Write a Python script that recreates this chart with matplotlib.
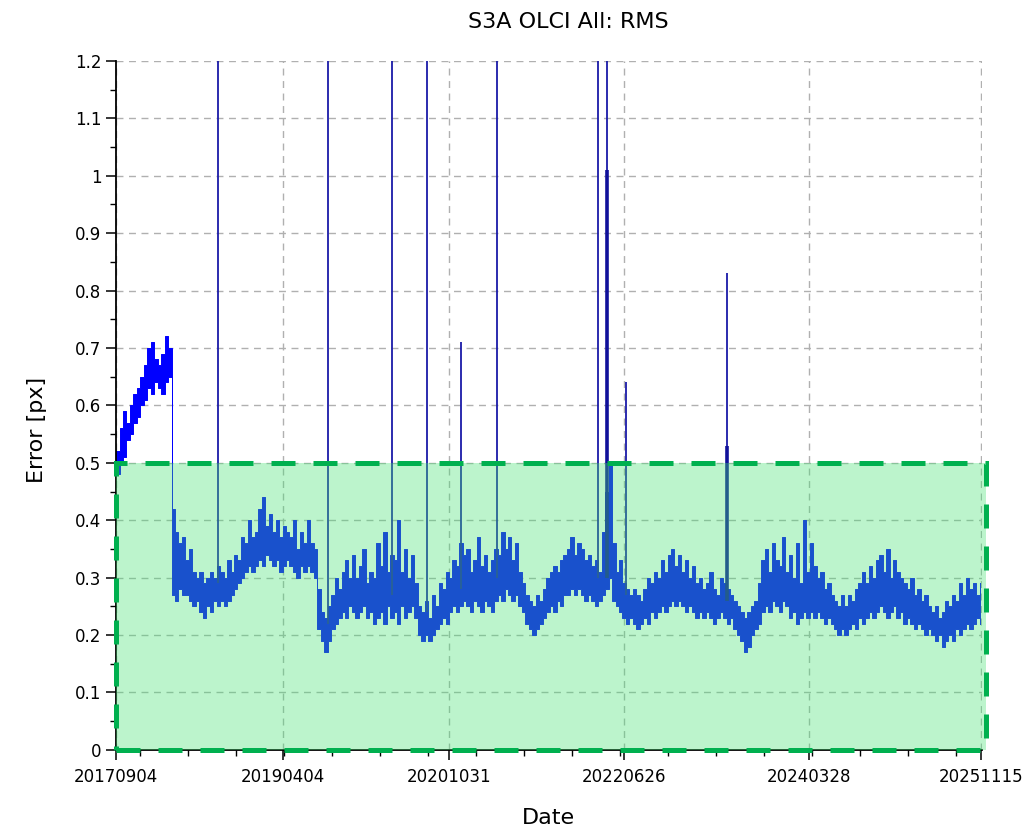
import numpy as np
import pandas as pd
import matplotlib
matplotlib.use("Agg")
import matplotlib.pyplot as plt
import matplotlib.dates as mdates
from matplotlib.patches import Rectangle
from matplotlib.ticker import MultipleLocator, FixedLocator

# RMS error, one (low, high) pair per 12-day bin starting 2017-09-04
start = pd.Timestamp("2017-09-04")
step_days = 12

rms_low = [
    0.48, 0.50, 0.51, 0.54, 0.55, 0.57, 0.58, 0.60, 0.61, 0.63,
    0.62, 0.64, 0.63, 0.62, 0.64, 0.65, 0.27, 0.26, 0.28, 0.27,
    0.27, 0.26, 0.25, 0.26, 0.24, 0.23, 0.25, 0.24, 0.26, 0.25,
    0.26, 0.25, 0.26, 0.27, 0.28, 0.29, 0.30, 0.31, 0.32, 0.31,
    0.32, 0.33, 0.32, 0.34, 0.33, 0.32, 0.33, 0.31, 0.32, 0.33,
    0.32, 0.31, 0.30, 0.32, 0.31, 0.32, 0.31, 0.30, 0.21, 0.19,
    0.17, 0.19, 0.21, 0.22, 0.23, 0.24, 0.23, 0.25, 0.24, 0.23,
    0.24, 0.25, 0.23, 0.24, 0.22, 0.23, 0.24, 0.22, 0.25, 0.23,
    0.24, 0.22, 0.25, 0.23, 0.24, 0.25, 0.23, 0.20, 0.19, 0.20,
    0.19, 0.20, 0.21, 0.22, 0.23, 0.22, 0.24, 0.25, 0.24, 0.25,
    0.26, 0.25, 0.24, 0.26, 0.25, 0.24, 0.26, 0.25, 0.24, 0.26,
    0.27, 0.26, 0.28, 0.27, 0.26, 0.27, 0.25, 0.24, 0.22, 0.21,
    0.20, 0.21, 0.22, 0.23, 0.24, 0.25, 0.24, 0.26, 0.25, 0.27,
    0.27, 0.28, 0.27, 0.28, 0.27, 0.26, 0.27, 0.26, 0.25, 0.26,
    0.27, 0.28, 0.30, 0.26, 0.25, 0.24, 0.23, 0.22, 0.23, 0.22,
    0.21, 0.22, 0.23, 0.22, 0.24, 0.23, 0.24, 0.25, 0.24, 0.25,
    0.26, 0.25, 0.26, 0.25, 0.24, 0.25, 0.24, 0.23, 0.24, 0.23,
    0.24, 0.23, 0.22, 0.23, 0.24, 0.23, 0.22, 0.23, 0.21, 0.20,
    0.19, 0.17, 0.18, 0.20, 0.21, 0.22, 0.24, 0.25, 0.24, 0.26,
    0.25, 0.24, 0.26, 0.25, 0.23, 0.24, 0.22, 0.23, 0.24, 0.23,
    0.24, 0.23, 0.24, 0.23, 0.22, 0.23, 0.22, 0.21, 0.20, 0.21,
    0.20, 0.21, 0.22, 0.21, 0.23, 0.22, 0.23, 0.24, 0.23, 0.24,
    0.25, 0.24, 0.23, 0.24, 0.25, 0.23, 0.24, 0.22, 0.23, 0.22,
    0.21, 0.22, 0.21, 0.20, 0.21, 0.20, 0.19, 0.20, 0.18, 0.19,
    0.20, 0.19, 0.21, 0.20, 0.21, 0.22, 0.21, 0.22, 0.23, 0.22,
]
rms_high = [
    0.52, 0.56, 0.59, 0.57, 0.60, 0.62, 0.63, 0.65, 0.67, 0.70,
    0.71, 0.68, 0.67, 0.69, 0.72, 0.70, 0.42, 0.38, 0.36, 0.37,
    0.33, 0.35, 0.31, 0.30, 0.31, 0.29, 0.30, 0.31, 0.30, 0.32,
    0.31, 0.30, 0.33, 0.31, 0.34, 0.33, 0.37, 0.36, 0.40, 0.37,
    0.38, 0.42, 0.44, 0.39, 0.41, 0.38, 0.40, 0.37, 0.39, 0.38,
    0.37, 0.40, 0.35, 0.38, 0.36, 0.40, 0.36, 0.35, 0.28, 0.24,
    0.23, 0.25, 0.27, 0.30, 0.28, 0.31, 0.33, 0.30, 0.34, 0.30,
    0.32, 0.35, 0.29, 0.31, 0.30, 0.36, 0.32, 0.38, 0.31, 0.34,
    0.33, 0.40, 0.31, 0.35, 0.30, 0.34, 0.29, 0.25, 0.24, 0.26,
    0.23, 0.27, 0.25, 0.29, 0.28, 0.31, 0.30, 0.33, 0.32, 0.36,
    0.34, 0.35, 0.31, 0.33, 0.37, 0.32, 0.34, 0.31, 0.33, 0.35,
    0.34, 0.38, 0.35, 0.37, 0.33, 0.36, 0.31, 0.29, 0.27, 0.26,
    0.25, 0.27, 0.26, 0.28, 0.30, 0.31, 0.32, 0.31, 0.33, 0.34,
    0.35, 0.37, 0.34, 0.36, 0.35, 0.33, 0.34, 0.32, 0.33, 0.31,
    0.38, 0.45, 0.50, 0.36, 0.31, 0.33, 0.29, 0.28, 0.27, 0.28,
    0.27, 0.26, 0.28, 0.30, 0.29, 0.31, 0.30, 0.33, 0.31, 0.34,
    0.35, 0.32, 0.34, 0.31, 0.33, 0.30, 0.32, 0.29, 0.30, 0.28,
    0.29, 0.31, 0.28, 0.27, 0.30, 0.29, 0.28, 0.27, 0.26, 0.25,
    0.24, 0.23, 0.24, 0.25, 0.26, 0.29, 0.33, 0.35, 0.31, 0.36,
    0.33, 0.32, 0.37, 0.31, 0.34, 0.30, 0.36, 0.29, 0.40, 0.31,
    0.36, 0.32, 0.30, 0.31, 0.28, 0.29, 0.27, 0.26, 0.25, 0.27,
    0.25, 0.27, 0.26, 0.28, 0.29, 0.31, 0.29, 0.32, 0.30, 0.33,
    0.34, 0.31, 0.35, 0.30, 0.33, 0.31, 0.30, 0.29, 0.28, 0.30,
    0.27, 0.28, 0.26, 0.27, 0.25, 0.24, 0.25, 0.23, 0.24, 0.26,
    0.25, 0.27, 0.26, 0.29, 0.27, 0.30, 0.28, 0.29, 0.27, 0.29,
]

# single-day outliers (days after start, value); 1.3 = off the top of the axis
spike_day = [353, 733, 954, 1075, 1193, 1317, 1666, 1700, 1766, 2112]
spike_base = [0.29, 0.22, 0.27, 0.24, 0.28, 0.30, 0.30, 0.30, 0.27, 0.26]
spike_top = [1.3, 1.3, 1.3, 1.3, 0.71, 1.3, 1.3, 1.3, 0.64, 0.83]
wide_day = [1697, 2112]
wide_base = [0.30, 0.26]
wide_top = [1.01, 0.53]

tick_labels = ["20170904", "20190404", "20201031", "20220626", "20240328", "20251115"]
green_limit = 0.5

dates = start + pd.to_timedelta(np.arange(len(rms_low)) * step_days, unit="D")
spike_dates = start + pd.to_timedelta(spike_day, unit="D")
wide_dates = start + pd.to_timedelta(wide_day, unit="D")
tick_dates = pd.to_datetime(tick_labels, format="%Y%m%d")

fig = plt.figure(figsize=(10.27, 8.36), dpi=100)
ax = fig.add_axes([0.113, 0.103, 0.8432, 0.8242])

ax.fill_between(dates, rms_low, rms_high, step="post", color="#0000ff",
                linewidth=0.7, zorder=2)
ax.vlines(spike_dates, spike_base, spike_top, color="#1a1aa8", linewidth=1.3, zorder=2)
ax.vlines(wide_dates, wide_base, wide_top, color="#10109a", linewidth=2.6, zorder=2)

# green "requirement" box
x0 = mdates.date2num(start)
x1 = mdates.date2num(pd.Timestamp("2025-12-02"))
ax.add_patch(Rectangle((x0, 0), x1 - x0, green_limit, facecolor=(70/255, 227/255, 115/255),
                       alpha=0.36, edgecolor="none", zorder=3, clip_on=False))
ax.add_patch(Rectangle((x0, 0), x1 - x0, green_limit, fill=False, edgecolor="#00b04f",
                       linewidth=3.6, linestyle=(0, (4.8, 3.6)), zorder=5, clip_on=False))

ax.set_xlim(start, pd.Timestamp("2025-11-17"))
ax.set_ylim(0, 1.2)

ax.xaxis.set_major_locator(FixedLocator(mdates.date2num(tick_dates)))
ax.set_xticklabels(tick_labels)
ax.xaxis.set_minor_locator(FixedLocator(mdates.date2num(
    pd.date_range("2017-11-26", "2025-11-15", freq="166D"))))
ax.yaxis.set_major_locator(MultipleLocator(0.1))
ax.yaxis.set_minor_locator(MultipleLocator(0.05))
ax.yaxis.set_major_formatter(plt.FuncFormatter(lambda v, p: "%g" % round(v, 2)))

ax.tick_params(which="major", length=7, width=1.1, labelsize=12, direction="out")
ax.tick_params(which="minor", length=4, width=1.0, direction="out")
ax.tick_params(axis="x", pad=6)

for s in ["top", "right"]:
    ax.spines[s].set_visible(False)
for s in ["left", "bottom"]:
    ax.spines[s].set_linewidth(1.3)

ax.set_axisbelow(True)
ax.grid(True, which="major", color="#b0b0b0", linestyle=(0, (5, 4)), linewidth=1.0)

ax.set_ylabel("Error [px]", fontsize=16)
ax.yaxis.set_label_coords(-0.080, 0.465)
ax.set_xlabel("Date", fontsize=16)
ax.xaxis.set_label_coords(0.499, -0.084)
fig.text(0.553, 0.974, "S3A OLCI All: RMS", fontsize=16, ha="center", va="center")

fig.savefig("out.png", dpi=100)
